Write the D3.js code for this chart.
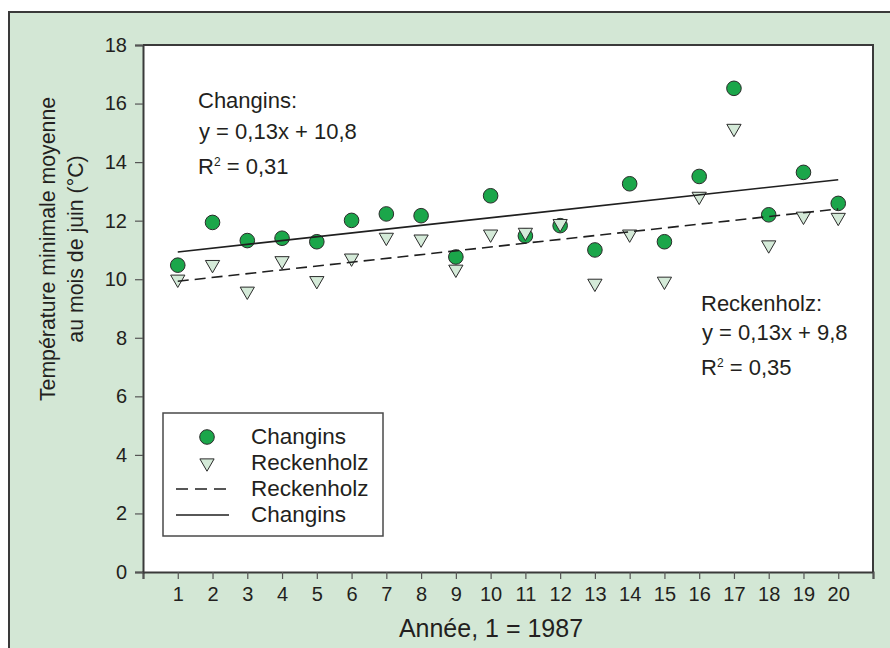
<!DOCTYPE html>
<html lang="fr">
<head>
    <meta charset="UTF-8">
    <script src="https://cdn.jsdelivr.net/npm/d3@7"></script>
    <title>Température minimale moyenne en juin</title>
    <style>
        body {
            margin: 0;
            background: #ffffff;
        }
        svg text {
            font-family: "Liberation Sans", Arial, sans-serif;
            fill: #231f20;
        }
    </style>
</head>
<body>
    <div id="chart"></div>

    <script>
        // data
        const years = [1, 2, 3, 4, 5, 6, 7, 8, 9, 10, 11, 12, 13, 14, 15, 16, 17, 18, 19, 20];
        const changins = [10.48, 11.94, 11.32, 11.40, 11.28, 12.01, 12.23, 12.17, 10.76, 12.85,
                          11.48, 11.83, 11.00, 13.26, 11.28, 13.51, 16.52, 12.20, 13.65, 12.59];
        const reckenholz = [10.00, 10.50, 9.59, 10.63, 9.95, 10.72, 11.43, 11.37, 10.34, 11.54,
                            11.60, 11.90, 9.86, 11.54, 9.93, 12.83, 15.15, 11.17, 12.15, 12.11];
        // regression y = a*x + b
        const fitChangins = { slope: 0.13, intercept: 10.8 };
        const fitReckenholz = { slope: 0.13, intercept: 9.8 };
        const xTicks = d3.range(0, 22);
        const yTicks = [0, 2, 4, 6, 8, 10, 12, 14, 16, 18];
        const notesChangins = ["Changins:", "y = 0,13x + 10,8", "0,31"];
        const notesReckenholz = ["Reckenholz:", "y = 0,13x + 9,8", "0,35"];

        const width = 890, height = 648;
        const margin = { left: 143, right: 17, top: 45, bottom: 76 };

        const svg = d3.select("#chart").append("svg")
            .attr("width", width)
            .attr("height", height);

        // green panel with frame
        svg.append("rect")
            .attr("x", 9).attr("y", 12)
            .attr("width", width + 20).attr("height", height + 20)
            .attr("fill", "#d3e7d5")
            .attr("stroke", "#3a3a3a")
            .attr("stroke-width", 2);

        const x = d3.scaleLinear().domain([0, 21]).range([margin.left, width - margin.right]);
        const y = d3.scaleLinear().domain([0, 18]).range([height - margin.bottom, margin.top]);

        // white plot area, top + right border
        svg.append("rect")
            .attr("x", x(0)).attr("y", y(18))
            .attr("width", x(21) - x(0)).attr("height", y(0) - y(18))
            .attr("fill", "#ffffff");
        svg.append("path")
            .attr("d", `M${x(0)},${y(18)}H${x(21)}V${y(0)}`)
            .attr("fill", "none")
            .attr("stroke", "#3a3a3a")
            .attr("stroke-width", 2);

        // axes
        const xAxis = svg.append("g")
            .attr("transform", `translate(0,${y(0)})`)
            .call(d3.axisBottom(x).tickValues(xTicks).tickSize(7).tickPadding(8)
                .tickFormat(d => (d >= 1 && d <= 20) ? d : ""));
        const yAxis = svg.append("g")
            .attr("transform", `translate(${x(0)},0)`)
            .call(d3.axisLeft(y).tickValues(yTicks).tickSize(8).tickPadding(8));

        [xAxis, yAxis].forEach(g => {
            g.select(".domain").attr("stroke", "#3a3a3a").attr("stroke-width", 2);
            g.selectAll(".tick line").attr("stroke", "#555").attr("stroke-width", 1.2);
            g.selectAll(".tick text")
                .style("font-family", "'Liberation Sans', Arial, sans-serif")
                .style("font-size", "20px")
                .attr("fill", "#231f20");
        });

        // axis titles
        svg.append("text")
            .attr("x", 491).attr("y", 637)
            .attr("text-anchor", "middle")
            .style("font-size", "25px")
            .text("Année, 1 = 1987");

        const yTitle = svg.append("text")
            .attr("transform", "translate(55,249) rotate(-90)")
            .attr("text-anchor", "middle")
            .style("font-size", "21.3px");
        yTitle.append("tspan").attr("x", 0).attr("y", 0).text("Température minimale moyenne");
        yTitle.append("tspan").attr("x", 0).attr("y", 28).text("au mois de juin (°C)");

        // points
        const pointsC = years.map((yr, i) => ({ x: yr, v: changins[i] }));
        const pointsR = years.map((yr, i) => ({ x: yr, v: reckenholz[i] }));

        svg.append("g").selectAll("circle")
            .data(pointsC)
            .enter().append("circle")
            .attr("cx", d => x(d.x))
            .attr("cy", d => y(d.v))
            .attr("r", 7.3)
            .attr("fill", "#1ba64a")
            .attr("stroke", "#2b2b2b")
            .attr("stroke-width", 1);

        const tri = d3.symbol().type(d3.symbolTriangle).size(88);
        svg.append("g").selectAll("path")
            .data(pointsR)
            .enter().append("path")
            .attr("d", tri)
            .attr("transform", d => `translate(${x(d.x)},${y(d.v)}) rotate(180)`)
            .attr("fill", "#d4ead8")
            .attr("stroke", "#2b2b2b")
            .attr("stroke-width", 1);

        // regression lines
        const fitLine = fit => [years[0], years[years.length - 1]]
            .map(xx => [x(xx), y(fit.slope * xx + fit.intercept)]);
        svg.append("path")
            .attr("d", d3.line()(fitLine(fitChangins)))
            .attr("stroke", "#1f1f1f").attr("stroke-width", 1.6).attr("fill", "none");
        svg.append("path")
            .attr("d", d3.line()(fitLine(fitReckenholz)))
            .attr("stroke", "#1f1f1f").attr("stroke-width", 1.6).attr("fill", "none")
            .attr("stroke-dasharray", "11,6");

        // equations
        const addNote = (x0, ys, lines) => {
            svg.append("text").attr("x", x0).attr("y", ys[0])
                .style("font-size", "22px").text(lines[0]);
            svg.append("text").attr("x", x0 + 1).attr("y", ys[1])
                .style("font-size", "22px").text(lines[1]);
            const r2 = svg.append("text").attr("x", x0).attr("y", ys[2])
                .style("font-size", "22px");
            r2.append("tspan").text("R");
            r2.append("tspan").attr("dy", -8).style("font-size", "12px").text("2");
            r2.append("tspan").attr("dy", 8).text(" = " + lines[2]);
        };
        addNote(198, [108, 139, 174], notesChangins);
        addNote(701, [311, 340, 375], notesReckenholz);

        // legend
        const legend = svg.append("g");
        legend.append("rect")
            .attr("x", 163).attr("y", 413)
            .attr("width", 220).attr("height", 123)
            .attr("fill", "#ffffff")
            .attr("stroke", "#4a4a4a")
            .attr("stroke-width", 1.5);
        const legendItems = [
            { label: "Changins", kind: "circle" },
            { label: "Reckenholz", kind: "triangle" },
            { label: "Reckenholz", kind: "dash" },
            { label: "Changins", kind: "solid" }
        ];
        legendItems.forEach((item, i) => {
            const cy = 437 + i * 26;
            if (item.kind === "circle") {
                legend.append("circle").attr("cx", 207).attr("cy", cy).attr("r", 7.3)
                    .attr("fill", "#1ba64a").attr("stroke", "#2b2b2b");
            } else if (item.kind === "triangle") {
                legend.append("path").attr("d", tri)
                    .attr("transform", `translate(207,${cy}) rotate(180)`)
                    .attr("fill", "#d4ead8").attr("stroke", "#2b2b2b");
            } else {
                legend.append("line")
                    .attr("x1", 176).attr("x2", 229).attr("y1", cy).attr("y2", cy)
                    .attr("stroke", "#1f1f1f").attr("stroke-width", 1.6)
                    .attr("stroke-dasharray", item.kind === "dash" ? "12,7" : null);
            }
            legend.append("text")
                .attr("x", 251).attr("y", cy + 7)
                .style("font-size", "22.5px")
                .text(item.label);
        });
    </script>
</body>
</html>
